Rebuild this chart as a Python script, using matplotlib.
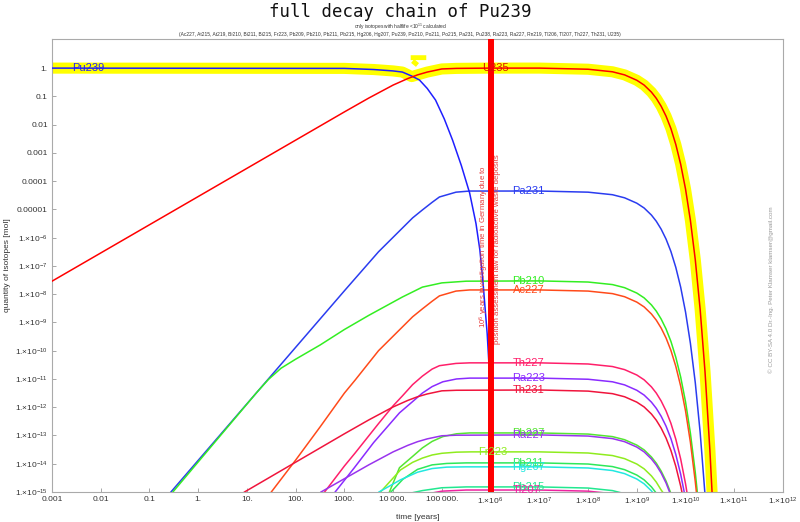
import numpy as np
import matplotlib
matplotlib.use("Agg")
import matplotlib.pyplot as plt

plt.rcParams["font.family"] = ["Liberation Sans", "DejaVu Sans"]
plt.rcParams["mathtext.fontset"] = "custom"
plt.rcParams["mathtext.rm"] = "Liberation Sans"
plt.rcParams["mathtext.it"] = "Liberation Sans"

# values, as log10(time [years]) and log10(quantity [mol])
PU239_T = [-3, 3.0, 3.6, 4.0, 4.19, 4.38, 4.54, 4.7, 4.87, 5.05, 5.22, 5.4, 5.57, 5.7, 5.78, 5.84, 5.93, 6.0]
PU239_Q = [0, -0.01, -0.05, -0.1, -0.14, -0.28, -0.42, -0.72, -1.13, -1.8, -2.55, -3.45, -4.42, -5.5, -6.44, -7.5, -9.4, -11.5]

U235_T = [-3, 3, 3.5, 4.0, 4.3, 4.5, 4.7, 5.0, 5.3, 6, 7, 8, 8.5, 8.75, 9, 9.15, 9.3, 9.4, 9.5, 9.6, 9.7, 9.8,
          9.9, 10, 10.1, 10.2, 10.3, 10.4, 10.5, 10.55]
U235_Q = [-7.54, -1.55, -1.06, -0.6, -0.37, -0.24, -0.14, -0.03, -0.01, 0, 0, -0.04, -0.13, -0.24, -0.43, -0.6,
          -0.85, -1.07, -1.35, -1.7, -2.14, -2.7, -3.4, -4.28, -5.39, -6.78, -8.54, -10.75, -13.53, -15.2]

# yellow band: the dominant isotope
MAX_T = [-3, 3.0, 3.6, 4.0, 4.19, 4.38, 4.5, 4.7, 5.0, 5.3, 6, 7, 8, 8.5, 8.75, 9, 9.15, 9.3, 9.4, 9.5, 9.6, 9.7,
         9.8, 9.9, 10, 10.1, 10.2, 10.3, 10.4, 10.5, 10.55]
MAX_Q = [0, -0.01, -0.05, -0.1, -0.14, -0.3, -0.24, -0.14, -0.03, -0.01, 0, 0, -0.04, -0.13, -0.24, -0.43, -0.6,
         -0.85, -1.07, -1.35, -1.7, -2.14, -2.7, -3.4, -4.28, -5.39, -6.78, -8.54, -10.75, -13.53, -15.2]
GLITCH_T = [4.36, 4.68, np.nan, 4.40, 4.50]
GLITCH_Q = [0.37, 0.37, np.nan, 0.25, 0.11]

DECAY_T = [7, 8, 8.5, 8.75, 9, 9.15, 9.3, 9.4, 9.5, 9.6, 9.7, 9.8, 9.9, 10, 10.1, 10.2, 10.3, 10.4]

PA231_T = [-0.56, 1, 2, 3, 3.7, 4.19, 4.4, 4.6, 4.8, 4.95, 5.29, 5.57] + DECAY_T
PA231_Q = [-15, -11.88, -9.88, -7.88, -6.5, -5.66, -5.3, -5.02, -4.75, -4.56, -4.39, -4.35,
           -4.35, -4.39, -4.48, -4.59, -4.78, -4.95, -5.2, -5.42, -5.7, -6.05, -6.49, -7.05, -7.75, -8.63,
           -9.74, -11.13, -12.89, -15.1]

PB210_T = [-0.52, 1.2, 1.44, 1.7, 2.0, 2.5, 3.0, 3.5, 4.19, 4.6, 5.0, 5.5] + DECAY_T[:16] + [10.26]
PB210_Q = [-15, -11.48, -11.02, -10.62, -10.3, -9.8, -9.25, -8.75, -8.1, -7.75, -7.6, -7.54,
           -7.53, -7.57, -7.66, -7.77, -7.96, -8.13, -8.38, -8.6, -8.88, -9.23, -9.67, -10.23, -10.93, -11.81,
           -12.92, -14.31, -15.32]

AC227_T = [1.5, 2.0, 2.5, 3.0, 3.22, 3.7, 4.19, 4.4, 4.6, 4.8, 4.95, 5.29, 5.57] + DECAY_T[:16] + [10.24]
AC227_Q = [-15, -13.87, -12.7, -11.5, -11.04, -10.0, -9.16, -8.8, -8.52, -8.25, -8.06, -7.89, -7.85,
           -7.85, -7.89, -7.98, -8.09, -8.28, -8.45, -8.7, -8.92, -9.2, -9.55, -9.99, -10.55, -11.25, -12.13,
           -13.24, -14.63, -15.29]

TH227_T = [2.55, 3.0, 3.22, 3.7, 4.0, 4.19, 4.4, 4.6, 4.8, 4.95, 5.29, 5.57] + DECAY_T[:14] + [10.05]
TH227_Q = [-15.1, -14.08, -13.62, -12.58, -11.95, -11.6, -11.2, -10.9, -10.65, -10.53, -10.45, -10.43,
           -10.43, -10.47, -10.56, -10.67, -10.86, -11.03, -11.28, -11.5, -11.78, -12.13, -12.57, -13.13,
           -13.83, -14.71, -15.23]

RA223_T = [2.81, 3.2, 3.6, 4.13, 4.4, 4.6, 4.8, 5.02, 5.3, 5.57] + DECAY_T[:13] + [9.99]
RA223_Q = [-15, -14.15, -13.25, -12.2, -11.8, -11.5, -11.27, -11.1, -11.0, -10.97,
           -10.97, -11.01, -11.1, -11.21, -11.4, -11.57, -11.82, -12.04, -12.32, -12.67, -13.11, -13.67,
           -14.37, -15.15]

TH231_T = [0.95, 3, 3.5, 4.0, 4.3, 4.5, 4.7, 5.0, 5.3] + DECAY_T[:13] + [9.95]
TH231_Q = [-15.0, -12.94, -12.45, -11.99, -11.76, -11.63, -11.53, -11.42, -11.4,
           -11.39, -11.43, -11.52, -11.63, -11.82, -11.99, -12.24, -12.46, -12.74, -13.09, -13.53, -14.09,
           -14.79, -15.2]

PB227_T = [3.9, 4.13, 4.4, 4.6, 4.8, 5.02, 5.3, 5.57] + DECAY_T[:11] + [9.75]
PB227_Q = [-15.1, -14.14, -13.74, -13.44, -13.21, -13.04, -12.94, -12.91,
           -12.91, -12.95, -13.04, -13.15, -13.34, -13.51, -13.76, -13.98, -14.26, -14.61, -15.05, -15.31]

RA227_T = [2.52, 3, 3.5, 4, 4.3, 4.5, 4.7, 5, 5.3] + DECAY_T[:11]
RA227_Q = [-15.0, -14.53, -14.04, -13.58, -13.35, -13.22, -13.12, -13.01, -12.99,
           -12.98, -13.02, -13.11, -13.22, -13.41, -13.58, -13.83, -14.05, -14.33, -14.68, -15.12]

FR223_T = [3.74, 4.15, 4.4, 4.6, 4.8, 5.0, 5.3, 5.6] + DECAY_T[:9] + [9.57]
FR223_Q = [-15, -14.22, -13.95, -13.8, -13.69, -13.63, -13.59, -13.58,
           -13.58, -13.62, -13.71, -13.82, -14.01, -14.18, -14.43, -14.65, -14.93, -15.1]

PB211_T = [3.9, 4.2, 4.5, 4.8, 5.1, 5.5] + DECAY_T[:8] + [9.45]
PB211_Q = [-15.1, -14.55, -14.2, -14.04, -13.99, -13.97,
           -13.97, -14.01, -14.1, -14.21, -14.4, -14.57, -14.82, -15.04, -15.17]

HG207_T = [3.71, 4.15, 4.5, 4.8, 5.1, 5.5] + DECAY_T[:7] + [9.38]
HG207_Q = [-15, -14.57, -14.3, -14.17, -14.12, -14.11,
           -14.11, -14.15, -14.24, -14.35, -14.54, -14.71, -14.96, -15.14]

PB215_T = [4.2, 4.6, 5.0, 5.5, 7, 8, 8.5, 8.75, 8.9]
PB215_Q = [-15.1, -14.95, -14.85, -14.82, -14.82, -14.86, -14.95, -15.06, -15.16]

TL207_T = [4.6, 5.0, 5.5, 7, 8, 8.5, 8.7]
TL207_Q = [-15.1, -14.97, -14.93, -14.93, -14.97, -15.06, -15.14]

# name, colour, time arrays, quantity arrays, label x (log10 t), label y (log10 q)
ISOTOPES = [
    ("Pa231", "#2a3cf0", PA231_T, PA231_Q, 6.45, -4.35),
    ("Pb210", "#33ee22", PB210_T, PB210_Q, 6.45, -7.53),
    ("Ac227", "#ff4a1a", AC227_T, AC227_Q, 6.45, -7.85),
    ("Th227", "#ff1f6a", TH227_T, TH227_Q, 6.45, -10.43),
    ("Ra223", "#8a2bff", RA223_T, RA223_Q, 6.45, -10.97),
    ("Th231", "#f0143c", TH231_T, TH231_Q, 6.45, -11.39),
    ("Pb227", "#55e533", PB227_T, PB227_Q, 6.45, -12.91),
    ("Ra227", "#9933ee", RA227_T, RA227_Q, 6.45, -12.98),
    ("Fr223", "#8fec1e", FR223_T, FR223_Q, 5.75, -13.58),
    ("Pb211", "#2ee85a", PB211_T, PB211_Q, 6.45, -13.97),
    ("Hg207", "#22e8e0", HG207_T, HG207_Q, 6.45, -14.11),
    ("Pb215", "#22e890", PB215_T, PB215_Q, 6.45, -14.82),
    ("Tl207", "#ee22a0", TL207_T, TL207_Q, 6.45, -14.93),
]

X_TICKS = list(range(-3, 13))
Y_TICKS = list(range(-15, 1))
LAW_TIME = 1e6

SUBTITLE_1 = "only isotopes with halflife <10$^{11}$ calculated"
SUBTITLE_2 = ("(Ac227, At215, At219, Bi210, Bi211, Bi215, Fr223, Pb209, Pb210, Pb211, Pb215, Hg206, Hg207, "
              "Pu239, Po210, Po211, Po215, Pa231, Pu238, Ra223, Ra227, Rn219, Tl206, Tl207, Th227, Th231, U235)")


def p10(a):
    return np.power(10.0, np.asarray(a, dtype=float))


def x_label(k):
    if k < 0:
        return "%g" % 10.0 ** k
    if k <= 3:
        return "%d." % 10 ** k
    if k == 4:
        return "10\u2009000."
    if k == 5:
        return "100\u2009000."
    return "1.×10$^{%d}$" % k


def y_label(k):
    if k == 0:
        return "1."
    if k >= -5:
        return ("%.*f" % (-k, 10.0 ** k))
    return "1.×10$^{%d}$" % k


fig = plt.figure(figsize=(8.0, 5.22), dpi=100)
ax = fig.add_axes([52 / 800, 30 / 522, 731 / 800, 453 / 522])
ax.set_xscale("log")
ax.set_yscale("log")
ax.set_xlim(1e-3, 1e12)
ax.set_ylim(1e-15, 10 ** 1.03)

ax.plot(p10(MAX_T), p10(MAX_Q), color="#ffff00", lw=8, solid_capstyle="butt", zorder=1)
ax.plot(p10(GLITCH_T), p10(GLITCH_Q), color="#ffff00", lw=3.5, solid_capstyle="butt", zorder=1)

ax.plot(p10(PU239_T), p10(PU239_Q), color="#1f1fff", lw=1.1, zorder=3)
ax.plot(p10(U235_T), p10(U235_Q), color="#ff0000", lw=1.1, zorder=3)
for name, color, t, q, lx, ly in ISOTOPES:
    ax.plot(p10(t), p10(q), color=color, lw=1.1, zorder=2)

ax.axvline(LAW_TIME, color="#ff0000", lw=4.3, zorder=4)

label_kw = dict(fontsize=8, va="center", ha="left", zorder=6)
ax.text(10 ** -2.59, 1.0, "Pu239", color="#2222ff", **label_kw)
ax.text(10 ** 5.82, 1.0, "U235", color="#dd1100", **label_kw)
for name, color, t, q, lx, ly in ISOTOPES:
    ax.text(10 ** lx, 10 ** ly, name, color=color, **label_kw)

ax.annotate("10$^{6}$ years investigation time in Germany due to", (LAW_TIME, 10 ** -6.33),
            xytext=(-4.8, 0), textcoords="offset points", rotation=90, ha="center", va="center",
            fontsize=5.6, color="#e83a3a", zorder=6)
ax.annotate("position assessment law for radioactive waste deposits", (LAW_TIME, 10 ** -6.4),
            xytext=(4.8, 0), textcoords="offset points", rotation=90, ha="center", va="center",
            fontsize=5.6, color="#e83a3a", zorder=6)

ax.set_xticks([10.0 ** k for k in X_TICKS])
ax.set_xticklabels([x_label(k) for k in X_TICKS])
ax.set_yticks([10.0 ** k for k in Y_TICKS])
ax.set_yticklabels([y_label(k) for k in Y_TICKS])
ax.minorticks_off()
ax.tick_params(direction="in", length=3, width=0.6, color="#999999", labelsize=6, labelcolor="#333333", pad=3)
for s in ax.spines.values():
    s.set_color("#aaaaaa")
    s.set_linewidth(0.8)

ax.set_xlabel("time [years]", fontsize=6, color="#333333", labelpad=5)
ax.set_ylabel("quantity of isotopes [mol]", fontsize=6, color="#333333", labelpad=3)

fig.text(0.5, 1 - 12 / 522, "full decay chain of Pu239", family="DejaVu Sans Mono",
         fontsize=12.5, ha="center", va="center", color="#111111")
fig.text(0.5, 1 - 27 / 522, SUBTITLE_1, fontsize=3.5, ha="center", va="center", color="#333333")
fig.text(0.5, 1 - 34.5 / 522, SUBTITLE_2, fontsize=3.5, ha="center", va="center", color="#333333")
fig.text(771 / 800, 1 - 290 / 522, "© CC BY-SA 4.0 Dr.-Ing. Peter Klamser klamser@gmail.com",
         rotation=90, fontsize=4.5, ha="center", va="center", color="#999999")

fig.savefig("out.png", dpi=100)
